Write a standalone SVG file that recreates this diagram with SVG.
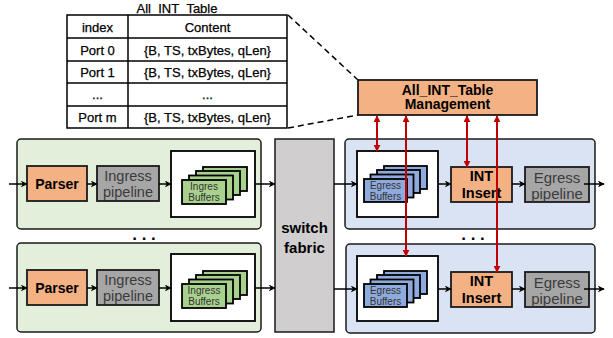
<svg xmlns="http://www.w3.org/2000/svg" width="613" height="338" viewBox="0 0 613 338">
<defs>
<marker id="ah" viewBox="0 0 10 10" refX="9" refY="5" markerWidth="7" markerHeight="7" orient="auto" markerUnits="userSpaceOnUse">
<path d="M0,0 L10,5 L0,10 L3,5 z" fill="#000"/>
</marker>
<marker id="rh" viewBox="0 0 10 10" refX="9" refY="5" markerWidth="7" markerHeight="7" orient="auto-start-reverse" markerUnits="userSpaceOnUse">
<path d="M0,0 L10,5 L0,10 z" fill="#c00000"/>
</marker>
</defs>
<style>
text{font-family:"Liberation Sans",Arial,sans-serif;text-anchor:middle;dominant-baseline:central}
.tb{font-size:13px;fill:#000;stroke:#000;stroke-width:0.25}
.panelg{fill:#e2efda;stroke:#1a1a1a;stroke-width:1.5}
.panelb{fill:#dae3f3;stroke:#1a1a1a;stroke-width:1.5}
.org{fill:#f4b183;stroke:#1a1a1a;stroke-width:1.8}
.gry{fill:#a6a6a6;stroke:#1a1a1a;stroke-width:1.8}
.wbox{fill:#fff;stroke:#000;stroke-width:1.8}
.bg{fill:#a9d18e;stroke:#000;stroke-width:1.8}
.bb{fill:#8faadc;stroke:#000;stroke-width:1.8}
.bold{font-weight:bold;fill:#000}
.gt{fill:#3b3b3b}
.bt{font-size:10px;fill:#333}
.blk{stroke:#000;stroke-width:1.5;fill:none;marker-end:url(#ah)}
.red{stroke:#c00000;stroke-width:2;fill:none;marker-start:url(#rh);marker-end:url(#rh)}
</style>

<g id="table">
<text x="177" y="8" class="tb">All_INT_Table</text>
<rect x="67" y="15" width="220" height="113" fill="#fff" stroke="#000" stroke-width="1.5"/>
<line x1="128" y1="15" x2="128" y2="128" stroke="#000" stroke-width="1.5"/>
<line x1="67" y1="38" x2="287" y2="38" stroke="#000" stroke-width="1.5"/>
<line x1="67" y1="61" x2="287" y2="61" stroke="#000" stroke-width="1.5"/>
<line x1="67" y1="83" x2="287" y2="83" stroke="#000" stroke-width="1.5"/>
<line x1="67" y1="106" x2="287" y2="106" stroke="#000" stroke-width="1.5"/>
<text x="97.5" y="27" class="tb">index</text>
<text x="207.5" y="27" class="tb">Content</text>
<text x="97.5" y="50" class="tb">Port 0</text>
<text x="207.5" y="50" class="tb">{B, TS, txBytes, qLen}</text>
<text x="97.5" y="72" class="tb">Port 1</text>
<text x="207.5" y="72" class="tb">{B, TS, txBytes, qLen}</text>
<text x="97.5" y="94" class="tb">...</text>
<text x="207.5" y="94" class="tb">...</text>
<text x="97.5" y="117" class="tb">Port m</text>
<text x="207.5" y="117" class="tb">{B, TS, txBytes, qLen}</text>
</g>

<g id="zoomlines">
<line x1="288" y1="15" x2="358" y2="80" stroke="#000" stroke-width="1.5" stroke-dasharray="6,4"/>
<line x1="288" y1="128" x2="358" y2="115" stroke="#000" stroke-width="1.5" stroke-dasharray="6,4"/>
</g>

<g id="mgmt">
<rect x="358" y="80" width="179" height="35" class="org"/>
<text x="447.5" y="89.5" class="bold" font-size="14">All_INT_Table</text>
<text x="447.5" y="104" class="bold" font-size="14">Management</text>
</g>

<g id="ingress-top">
<rect x="17" y="139" width="244" height="90" rx="4" class="panelg"/>
<rect x="27" y="166" width="60" height="35" class="org"/>
<text x="57" y="184" class="bold" font-size="14">Parser</text>
<rect x="97" y="166" width="62" height="35" class="gry"/>
<text x="128" y="176" class="gt" font-size="14.5">Ingress</text>
<text x="128" y="192" class="gt" font-size="14.5">pipeline</text>
<rect x="171" y="151" width="84" height="66" class="wbox"/>
<rect x="203" y="167" width="44" height="24" class="bg"/>
<rect x="196" y="171" width="44" height="24" class="bg"/>
<rect x="189" y="175.5" width="44" height="24" class="bg"/>
<rect x="182" y="180" width="44" height="24" class="bg"/>
<text x="204" y="186.5" class="bt">Ingres</text>
<text x="204" y="197.5" class="bt">Buffers</text>
</g>

<g id="ingress-bottom">
<rect x="17" y="243" width="244" height="89" rx="4" class="panelg"/>
<rect x="27" y="270" width="60" height="35" class="org"/>
<text x="57" y="288" class="bold" font-size="14">Parser</text>
<rect x="97" y="270" width="62" height="35" class="gry"/>
<text x="128" y="280" class="gt" font-size="14.5">Ingress</text>
<text x="128" y="296" class="gt" font-size="14.5">pipeline</text>
<rect x="171" y="254" width="84" height="67" class="wbox"/>
<rect x="203" y="271" width="44" height="24" class="bg"/>
<rect x="196" y="275" width="44" height="24" class="bg"/>
<rect x="189" y="279.5" width="44" height="24" class="bg"/>
<rect x="182" y="284" width="44" height="24" class="bg"/>
<text x="204" y="290.5" class="bt">Ingress</text>
<text x="204" y="301.5" class="bt">Buffers</text>
</g>

<g id="dots">
<text x="144" y="234" class="bold" font-size="17">. . .</text>
<text x="473" y="234" class="bold" font-size="17">. . .</text>
</g>

<g id="switch">
<rect x="275" y="139" width="59" height="193" fill="#d0cece" stroke="#1a1a1a" stroke-width="1.5"/>
<text x="304.5" y="227" class="bold" font-size="15">switch</text>
<text x="304.5" y="247" class="bold" font-size="15">fabric</text>
</g>

<g id="egress-top">
<rect x="345" y="139" width="250" height="90" rx="4" class="panelb"/>
<rect x="357" y="151" width="81" height="66" class="wbox"/>
<rect x="384" y="166" width="43" height="23" class="bb"/>
<rect x="377" y="170" width="43" height="23" class="bb"/>
<rect x="370.5" y="174.5" width="43" height="23" class="bb"/>
<rect x="364" y="179" width="43" height="23" class="bb"/>
<text x="385.5" y="185.5" class="bt">Egress</text>
<text x="385.5" y="196.5" class="bt">Buffers</text>
<rect x="451" y="167" width="61" height="35" class="org"/>
<text x="481.5" y="176" class="bold" font-size="14.5">INT</text>
<text x="481.5" y="193" class="bold" font-size="14.5">Insert</text>
<rect x="525" y="167" width="64" height="35" class="gry"/>
<text x="557" y="177" class="gt" font-size="15">Egress</text>
<text x="557" y="193" class="gt" font-size="15">pipeline</text>
</g>

<g id="egress-bottom">
<rect x="346" y="244" width="249" height="89" rx="4" class="panelb"/>
<rect x="357" y="256" width="81" height="65" class="wbox"/>
<rect x="384" y="271" width="43" height="23" class="bb"/>
<rect x="377" y="275" width="43" height="23" class="bb"/>
<rect x="370.5" y="279.5" width="43" height="23" class="bb"/>
<rect x="364" y="284" width="43" height="23" class="bb"/>
<text x="385.5" y="290.5" class="bt">Egress</text>
<text x="385.5" y="301.5" class="bt">Buffers</text>
<rect x="451" y="272" width="61" height="35" class="org"/>
<text x="481.5" y="281" class="bold" font-size="14.5">INT</text>
<text x="481.5" y="298" class="bold" font-size="14.5">Insert</text>
<rect x="525" y="272" width="64" height="35" class="gry"/>
<text x="557" y="282" class="gt" font-size="15">Egress</text>
<text x="557" y="298" class="gt" font-size="15">pipeline</text>
</g>

<g id="connectors">
<line x1="9" y1="184" x2="27" y2="184" class="blk"/>
<line x1="87" y1="184" x2="97" y2="184" class="blk"/>
<line x1="159" y1="184" x2="171" y2="184" class="blk"/>
<line x1="255" y1="184" x2="275" y2="184" class="blk"/>
<line x1="9" y1="288" x2="27" y2="288" class="blk"/>
<line x1="87" y1="288" x2="97" y2="288" class="blk"/>
<line x1="159" y1="288" x2="171" y2="288" class="blk"/>
<line x1="255" y1="288" x2="275" y2="288" class="blk"/>
<line x1="334" y1="184" x2="357" y2="184" class="blk"/>
<line x1="438" y1="184" x2="451" y2="184" class="blk"/>
<line x1="512" y1="184" x2="525" y2="184" class="blk"/>
<line x1="584" y1="184" x2="604" y2="184" class="blk"/>
<line x1="334" y1="289" x2="357" y2="289" class="blk"/>
<line x1="438" y1="289" x2="451" y2="289" class="blk"/>
<line x1="512" y1="289" x2="525" y2="289" class="blk"/>
<line x1="584" y1="289" x2="604" y2="289" class="blk"/>
<line x1="377" y1="116" x2="377" y2="151" class="red"/>
<line x1="406" y1="116" x2="406" y2="256" class="red"/>
<line x1="467" y1="116" x2="467" y2="167" class="red"/>
<line x1="497" y1="116" x2="497" y2="272" class="red"/>
</g>
</svg>
